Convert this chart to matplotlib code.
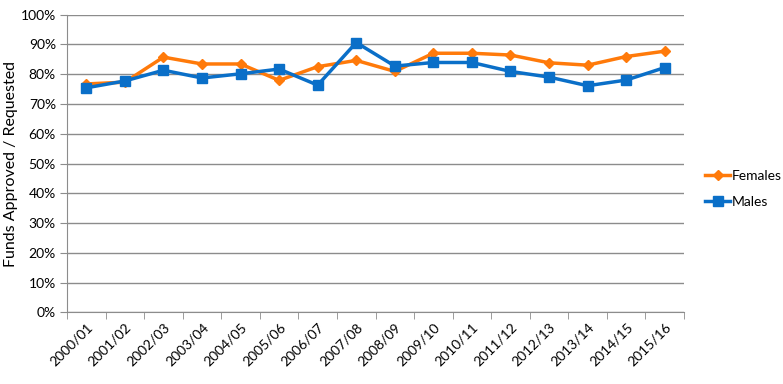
import matplotlib
matplotlib.use("Agg")
import matplotlib.pyplot as plt
import numpy as np
from matplotlib.ticker import FixedLocator, PercentFormatter

years = ["2000/01", "2001/02", "2002/03", "2003/04", "2004/05", "2005/06", "2006/07",
         "2007/08", "2008/09", "2009/10", "2010/11", "2011/12", "2012/13", "2013/14",
         "2014/15", "2015/16"]
females = [76.7, 77.3, 85.7, 83.4, 83.4, 77.9, 82.5, 84.6, 80.9, 87.0, 87.0, 86.4,
           83.8, 83.0, 85.9, 87.7]
males = [75.4, 77.7, 81.3, 78.7, 80.1, 81.7, 76.3, 90.6, 82.7, 83.9, 83.9, 80.9,
         79.0, 76.1, 78.0, 82.2]

plt.rcParams['font.family'] = ['Lato', 'DejaVu Sans']

fig = plt.figure(figsize=(7.83, 3.84), dpi=100)
ax = fig.add_axes([0.0856, 0.1862, 0.788, 0.776])

x = np.arange(len(years))
ORANGE = "#FF7A0A"
BLUE = "#0A6FC8"
l1, = ax.plot(x, females, color=ORANGE, lw=2.5, marker="D", ms=5.5, label="Females", zorder=3)
l2, = ax.plot(x, males, color=BLUE, lw=2.5, marker="s", ms=7.5, label="Males", zorder=4)

ax.set_xlim(-0.5, len(years) - 0.5)
ax.set_ylim(0, 100)
ax.set_yticks(np.arange(0, 101, 10))
ax.yaxis.set_major_formatter(PercentFormatter(decimals=0))
ax.yaxis.grid(True, color="#8C8C8C", lw=1)
ax.set_axisbelow(True)

ax.set_xticks(x)
ax.set_xticklabels(years, rotation=45, ha="right", rotation_mode="anchor", fontsize=10)
ax.xaxis.set_minor_locator(FixedLocator(np.arange(-0.5, len(years), 1)))
ax.tick_params(axis="x", which="major", length=0, pad=6)
ax.tick_params(axis="x", which="minor", length=5, color="#8C8C8C")
ax.tick_params(axis="y", length=5, color="#8C8C8C", labelsize=10, pad=3)

for s in ["top", "right"]:
    ax.spines[s].set_visible(False)
for s in ["left", "bottom"]:
    ax.spines[s].set_color("#8C8C8C")

ax.set_ylabel("Funds Approved / Requested", fontsize=11.5, labelpad=2)

fig.legend(handles=[l1, l2], loc="upper left", bbox_to_anchor=(0.901, 0.557),
           frameon=False, fontsize=10, handlelength=1.8, handletextpad=0.1,
           labelspacing=1.0, borderaxespad=0, borderpad=0)

fig.savefig("out.png", dpi=100)
